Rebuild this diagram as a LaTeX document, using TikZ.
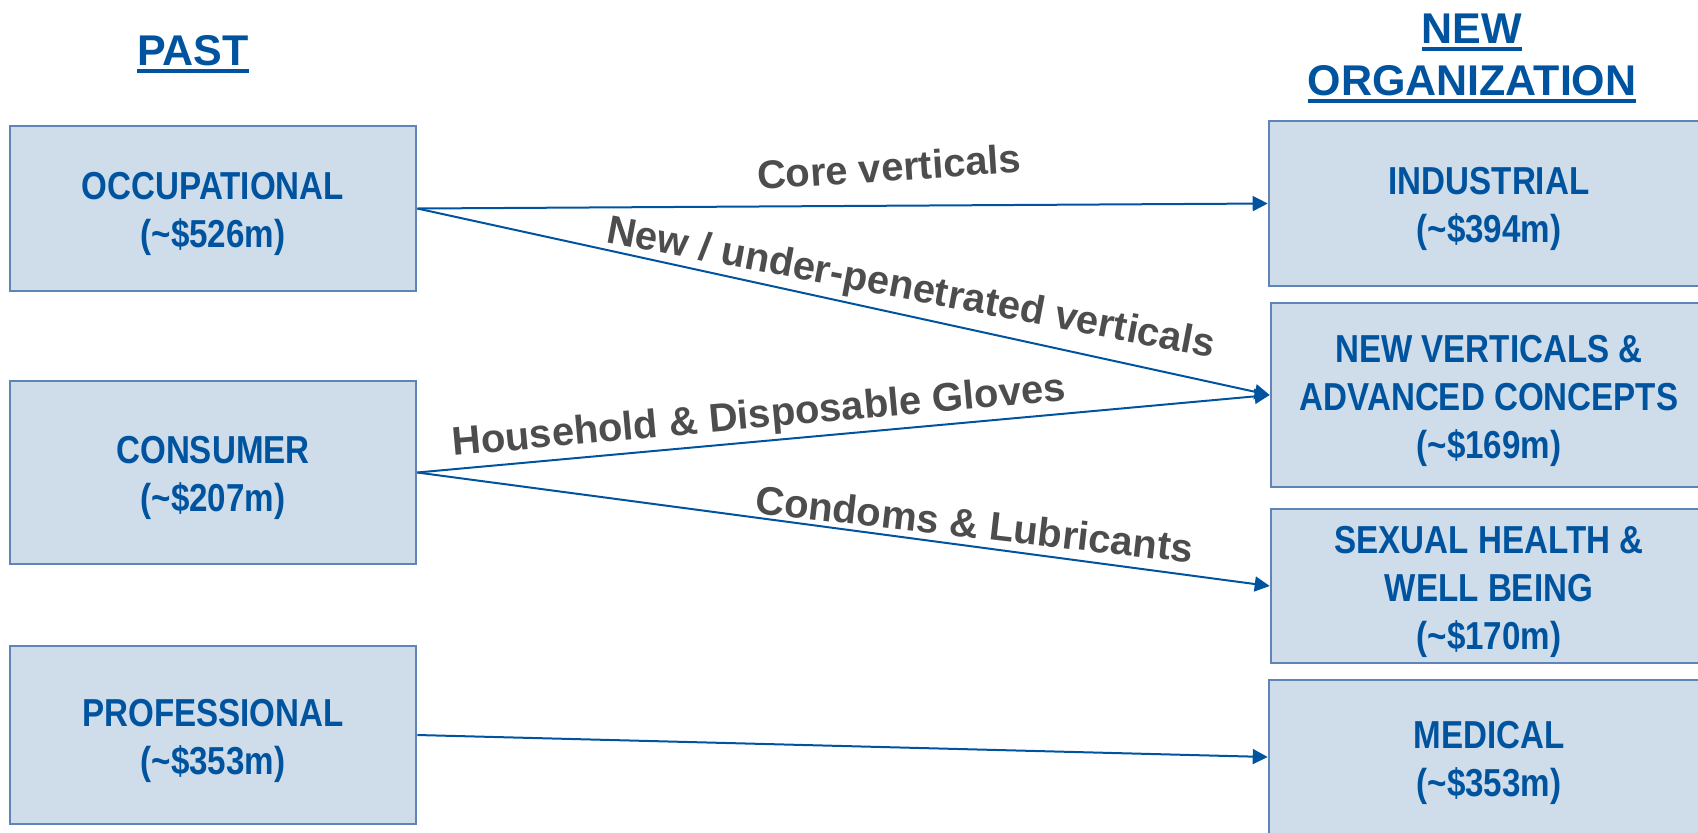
\documentclass[tikz,border=0pt]{standalone}
\usepackage{fontspec}
\setmainfont{Liberation Sans}
\newfontfamily\boxfont[FakeStretch=0.85]{Liberation Sans}
\usetikzlibrary{arrows.meta}
\definecolor{tblue}{RGB}{0,84,159}
\definecolor{bfill}{RGB}{207,220,233}
\definecolor{bline}{RGB}{96,132,184}
\definecolor{lgray}{RGB}{77,77,77}
\newsavebox{\ulbox}
\newcommand\ulin[1]{\sbox{\ulbox}{#1}\rlap{\rule[-4pt]{\wd\ulbox}{2pt}}\usebox{\ulbox}}
\newcommand\tupstrut{\rule{0pt}{19.5pt}}
\tikzset{
  catbox/.style={draw=bline, line width=1.3pt, fill=bfill, inner sep=0pt,
    align=center, text=tblue, font=\boxfont\bfseries\fontsize{19.5pt}{24pt}\selectfont},
  title/.style={text=tblue, inner sep=0pt, anchor=base,
    font=\bfseries\fontsize{21.5pt}{26pt}\selectfont},
  conn/.style={draw=tblue, line width=1pt, -{Triangle[length=7.5pt,width=7.5pt]}},
  lbl/.style={text=lgray, inner sep=0pt, anchor=base,
    font=\bfseries\fontsize{20pt}{24pt}\selectfont}
}
\begin{document}
\begin{tikzpicture}[x=0.5pt,y=-0.5pt]
\useasboundingbox (0,0) rectangle (1698,832);
% titles
\node[title] (past) at (193,65) {\ulin{PAST}};
\node[title] (newt) at (1472,43) {\ulin{NEW}};
\node[title] (orgt) at (1472,95) {\ulin{ORGANIZATION}};
% left boxes
\node[catbox, minimum width=203pt, minimum height=82.5pt] (occ) at (213,208.5) {\tupstrut OCCUPATIONAL\\(\textasciitilde\$526m)};
\node[catbox, minimum width=203pt, minimum height=91.5pt] (con) at (213,472.5) {\tupstrut CONSUMER\\(\textasciitilde\$207m)};
\node[catbox, minimum width=203pt, minimum height=89pt] (pro) at (213,735) {\tupstrut PROFESSIONAL\\(\textasciitilde\$353m)};
% right boxes
\node[catbox, minimum width=220pt, minimum height=82.5pt] (ind) at (1489,203.5) {\tupstrut INDUSTRIAL\\(\textasciitilde\$394m)};
\node[catbox, minimum width=218pt, minimum height=92pt] (nv) at (1489,395) {\tupstrut NEW VERTICALS \&\\ADVANCED CONCEPTS\\(\textasciitilde\$169m)};
\node[catbox, minimum width=218pt, minimum height=77pt] (sh) at (1489,586) {\tupstrut SEXUAL HEALTH \&\\WELL BEING\\(\textasciitilde\$170m)};
\node[catbox, minimum width=220pt, minimum height=77pt] (med) at (1489,757) {\tupstrut MEDICAL\\(\textasciitilde\$353m)};
% connectors
\draw[conn] (occ.east) -- (ind.west);
\draw[conn] (occ.east) -- (nv.west);
\draw[conn] (con.east) -- (nv.west);
\draw[conn] (con.east) -- (sh.west);
\draw[conn] (pro.east) -- (med.west);
% labels
\node[lbl, rotate=3.8] (l1) at (890,181) {Core verticals};
\node[lbl, rotate=-10.8] (l2) at (909,300) {New / under-penetrated verticals};
\node[lbl, rotate=5.2] (l3) at (760,428) {Household \& Disposable Gloves};
\node[lbl, rotate=-6.5] (l4) at (973,538) {Condoms \& Lubricants};
\end{tikzpicture}
\end{document}
